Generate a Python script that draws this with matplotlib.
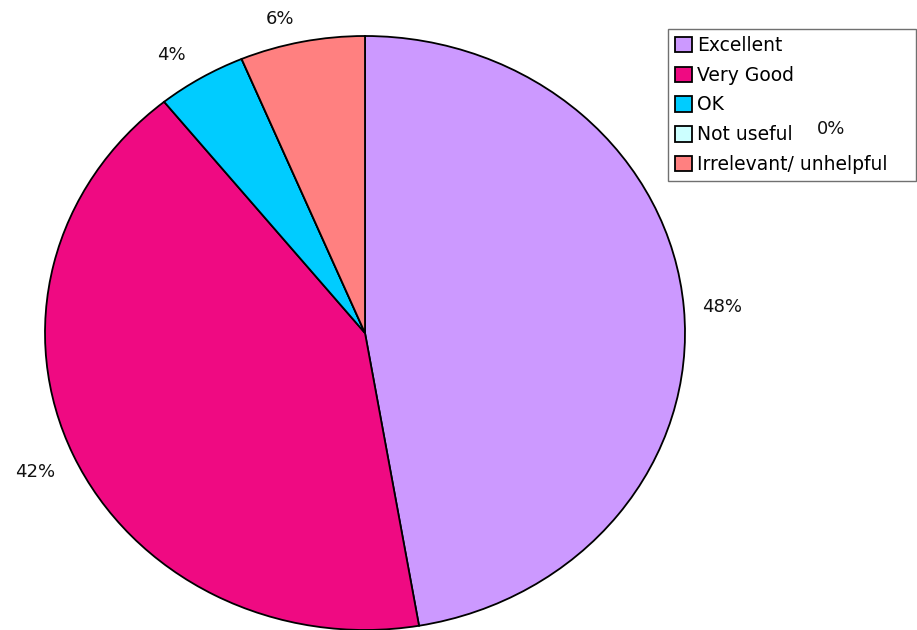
import matplotlib
matplotlib.use("Agg")
import matplotlib.pyplot as plt

# slice sizes
categories = ["Excellent", "Very Good", "OK", "Not useful", "Irrelevant/ unhelpful"]
shares = [47.3, 41.9, 4.5, 0.0, 6.3]
pct_labels = ["48%", "42%", "4%", "0%", "6%"]
colors = ["#CC99FF", "#EF0A82", "#00CCFF", "#CCFFFF", "#FF8080"]

# where the percent labels sit, in pie-radius units
label_x = [1.116, -1.031, -0.605, 1.456, -0.266]
label_y = [0.088, -0.468, 0.936, 0.687, 1.057]

W, H = 917, 630
cx, cy, rx, ry = 365, 333, 320, 297

fig = plt.figure(figsize=(W / 100, H / 100), dpi=100)
ax = fig.add_axes([0, 0, 1, 1])

wedges, _ = ax.pie(shares, colors=colors, startangle=90, counterclock=False,
                   wedgeprops=dict(edgecolor="black", linewidth=1.3))
ax.set_aspect("auto")
ax.set_xlim(-cx / rx, (W - cx) / rx)
ax.set_ylim(-(H - cy) / ry, cy / ry)
ax.axis("off")

for t, x, y in zip(pct_labels, label_x, label_y):
    ax.text(x, y, t, ha="center", va="center", fontsize=13, color="#111111", zorder=6)

leg = ax.legend(wedges, categories, loc="upper left",
                bbox_to_anchor=(668 / W, 1 - 29 / H, (916 - 668) / W, 0),
                mode="expand", borderaxespad=0, fontsize=13.5, fancybox=False,
                framealpha=1, edgecolor="#707070", borderpad=0.38,
                labelspacing=0.57, handlelength=0.9, handleheight=0.9,
                handletextpad=0.25)
leg.get_frame().set_linewidth(1.0)
leg.set_zorder(5)

fig.savefig("out.png", dpi=100)
